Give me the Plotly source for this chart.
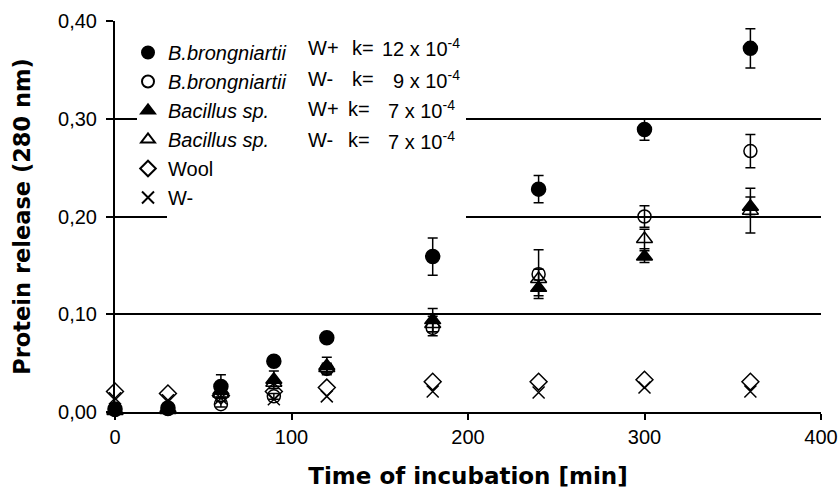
import plotly.graph_objects as go

# ---------------- data ----------------
time_min = [0, 30, 60, 90, 120, 180, 240, 300, 360]

bb_wplus = [0.003, 0.004, 0.026, 0.052, 0.076, 0.159, 0.228, 0.289, 0.372]
bb_wplus_err = [0.002, 0.002, 0.012, 0.003, 0.003, 0.019, 0.014, 0.011, 0.020]

bb_wminus = [0.002, 0.003, 0.008, 0.016, 0.044, 0.086, 0.141, 0.200, 0.267]
bb_wminus_err = [0.002, 0.002, 0.003, 0.003, 0.004, 0.008, 0.025, 0.011, 0.017]

bac_wplus = [0.001, 0.002, 0.022, 0.033, 0.047, 0.094, 0.127, 0.159, 0.210]
bac_wplus_err = [0.002, 0.003, 0.004, 0.009, 0.009, 0.012, 0.008, 0.006, 0.010]

bac_wminus = [0.002, 0.004, 0.019, 0.030, 0.045, 0.090, 0.136, 0.177, 0.206]
bac_wminus_err = [0.002, 0.003, 0.004, 0.004, 0.005, 0.008, 0.010, 0.010, 0.023]

wool = [0.021, 0.019, 0.017, 0.021, 0.025, 0.031, 0.031, 0.033, 0.031]
w_minus = [0.014, 0.012, 0.014, 0.013, 0.016, 0.021, 0.020, 0.025, 0.021]

legend_names = ["<i>B.brongniartii</i>", "<i>B.brongniartii</i>",
                "<i>Bacillus sp.</i>", "<i>Bacillus sp.</i>", "Wool", "W-"]
legend_cond = ["W+", "W-", "W+", "W-"]
legend_k = ["12 x 10<sup>-4</sup>", "9 x 10<sup>-4</sup>",
            "7 x 10<sup>-4</sup>", "7 x 10<sup>-4</sup>"]

x_ticks = [0, 100, 200, 300, 400]
y_ticks = [0.0, 0.1, 0.2, 0.3, 0.4]
y_tick_text = ["0,00", "0,10", "0,20", "0,30", "0,40"]

# ---------------- layout geometry ----------------
W, H = 840, 489
ML, MR, MT, MB = 115, 19, 21, 77
PW, PH = W - ML - MR, H - MT - MB


def px_x(px):
    return (px - ML) / PW


def px_y(py):
    return (H - MB - py) / PH


FONT = "Arial, 'Liberation Sans', sans-serif"
TITLE_FONT = "'DejaVu Sans', Arial, sans-serif"

series = [
    (bb_wplus, bb_wplus_err, "circle", 14),
    (bb_wminus, bb_wminus_err, "circle-open", 13),
    (bac_wplus, bac_wplus_err, "triangle-up", 14),
    (bac_wminus, bac_wminus_err, "triangle-up-open", 14),
    (wool, None, "diamond-open", 13),
    (w_minus, None, "x-thin-open", 12),
]

fig = go.Figure()
for (vals, errs, sym, size), name in zip(series, legend_names):
    kw = {}
    if errs is not None:
        kw["error_y"] = dict(type="data", array=errs, visible=True,
                             color="black", thickness=1.5, width=5)
    fig.add_trace(go.Scatter(
        x=time_min, y=vals, mode="markers", name=name,
        marker=dict(symbol=sym, size=size, color="black",
                    line=dict(color="black", width=1.5)),
        cliponaxis=False, **kw))

# white background behind the legend block (covers the gridlines)
shapes = [
    dict(type="rect", xref="paper", yref="paper", layer="above",
         x0=px_x(137), x1=px_x(466), y0=px_y(206), y1=px_y(26),
         fillcolor="white", line=dict(width=0)),
    dict(type="rect", xref="paper", yref="paper", layer="above",
         x0=px_x(167), x1=px_x(466), y0=px_y(224), y1=px_y(205),
         fillcolor="white", line=dict(width=0)),
]

row_y = [48, 79, 109, 140, 170, 201]
annotations = []
for i in range(4):
    annotations.append(dict(text=legend_cond[i], xref="paper", yref="paper",
                            x=px_x(306), y=px_y(row_y[i]), xanchor="left",
                            yanchor="middle", showarrow=False,
                            font=dict(family=FONT, size=20, color="black")))
    annotations.append(dict(text="k=", xref="paper", yref="paper",
                            x=px_x(346 if i >= 2 else 350), y=px_y(row_y[i]),
                            xanchor="left", yanchor="middle", showarrow=False,
                            font=dict(family=FONT, size=20, color="black")))
    annotations.append(dict(text=legend_k[i], xref="paper", yref="paper",
                            x=px_x(462 if i < 2 else 457), y=px_y(row_y[i]),
                            xanchor="right", yanchor="middle", showarrow=False,
                            font=dict(family=FONT, size=20, color="black")))

fig.update_layout(
    width=W, height=H,
    margin=dict(l=ML, r=MR, t=MT, b=MB, autoexpand=False),
    paper_bgcolor="white", plot_bgcolor="white",
    font=dict(family=FONT, size=20, color="black"),
    showlegend=True,
    legend=dict(x=px_x(128), y=px_y(33), xanchor="left", yanchor="top",
                bgcolor="rgba(0,0,0,0)", borderwidth=0,
                font=dict(family=FONT, size=20, color="black"),
                itemwidth=30, tracegroupgap=0, itemsizing="constant"),
    shapes=shapes,
    annotations=annotations,
    xaxis=dict(range=[0, 400], tickvals=x_ticks, ticktext=[str(v) for v in x_ticks],
               showgrid=False, zeroline=False, showline=True, linecolor="black",
               linewidth=2, ticks="outside", ticklen=6, tickwidth=1.5,
               tickcolor="black", tickfont=dict(family=FONT, size=20),
               title=dict(text="<b>Time of incubation [min]</b>",
                          font=dict(family=TITLE_FONT, size=23), standoff=21)),
    yaxis=dict(range=[0, 0.4], tickvals=y_ticks, ticktext=y_tick_text,
               showgrid=True, gridcolor="black", gridwidth=1.5,
               zeroline=False, showline=True, linecolor="black", linewidth=2,
               ticks="outside", ticklen=7, tickwidth=1.5, tickcolor="black",
               ticklabelstandoff=5,
               tickfont=dict(family=FONT, size=20),
               title=dict(text="<b>Protein release (280 nm)</b>",
                          font=dict(family=TITLE_FONT, size=22.5), standoff=21)),
)

fig.write_html("out.html",
               config={"displayModeBar": False},
               post_script="document.body.style.margin='0';"
                           "document.body.style.padding='0';"
                           "document.body.style.overflow='hidden';")
